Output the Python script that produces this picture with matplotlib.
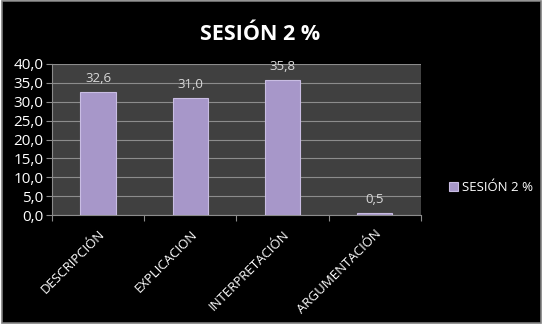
import matplotlib.pyplot as plt
from matplotlib.patches import Rectangle
from matplotlib.transforms import ScaledTranslation

categorias = ["DESCRIPCIÓN", "EXPLICACION", "INTERPRETACIÓN", "ARGUMENTACIÓN"]
valores = [32.6, 31.0, 35.8, 0.5]
serie = "SESIÓN 2 %"
titulo = "SESIÓN 2 %"

plt.rcParams['font.family'] = ['Open Sans', 'DejaVu Sans']

fig = plt.figure(figsize=(5.46, 3.26), dpi=100, facecolor='white')
# black chart area with grey border
fig.patches.append(Rectangle((0.004, 0.009), 0.986, 0.988, transform=fig.transFigure,
                             facecolor='black', edgecolor='#7f7f7f', lw=1.2, zorder=-1))

ax = fig.add_axes([0.095, 0.340, 0.676, 0.464])
ax.set_facecolor('#404040')
x = range(len(categorias))
bars = ax.bar(x, valores, width=0.38, color='#a797c9', edgecolor='#c9bde3', lw=0.8,
              label=serie, zorder=3)

for xi, v in zip(x, valores):
    ax.text(xi, v + 1.8, f"{v:.1f}".replace('.', ','), ha='center', va='bottom',
            color='#d9d9d9', fontsize=9.5)

ax.set_xlim(-0.5, len(categorias) - 0.5)
ax.set_ylim(0, 40)
ax.set_yticks(range(0, 41, 5))
ax.set_yticklabels([f"{t:.1f}".replace('.', ',') for t in range(0, 41, 5)],
                   color='white', fontsize=11)
ax.grid(axis='y', color='#8c8c8c', lw=0.8, zorder=1)
ax.set_axisbelow(True)

ax.set_xticks([i - 0.5 for i in range(len(categorias) + 1)], minor=False)
ax.set_xticklabels([])
ax.set_xticks(list(x), minor=True)
ax.set_xticklabels(categorias, minor=True, rotation=45, ha='right', va='top',
                   rotation_mode='anchor', color='white', fontsize=9.5)
# nudge labels slightly left, like the original
shift = ScaledTranslation(-4 / 100, 0, fig.dpi_scale_trans)
for lbl in ax.get_xticklabels(minor=True):
    lbl.set_transform(lbl.get_transform() + shift)
ax.tick_params(axis='x', which='minor', length=0, pad=9)
ax.tick_params(axis='x', which='major', length=4, color='#8c8c8c')
ax.tick_params(axis='y', length=4, color='#8c8c8c', pad=2)

for s in ['top', 'right']:
    ax.spines[s].set_visible(False)
ax.spines['left'].set_color('#8c8c8c')
ax.spines['bottom'].set_color('#8c8c8c')

fig.text(0.477, 0.895, titulo, ha='center', va='center', color='white',
         fontsize=15.5, fontweight='bold')

leg = fig.legend(loc='center left', bbox_to_anchor=(0.80, 0.425), frameon=False,
                 fontsize=9.5, handlelength=0.7, handleheight=0.7, handletextpad=0.3)
for t in leg.get_texts():
    t.set_color('white')

fig.savefig('out.png', dpi=100, facecolor=fig.get_facecolor())
